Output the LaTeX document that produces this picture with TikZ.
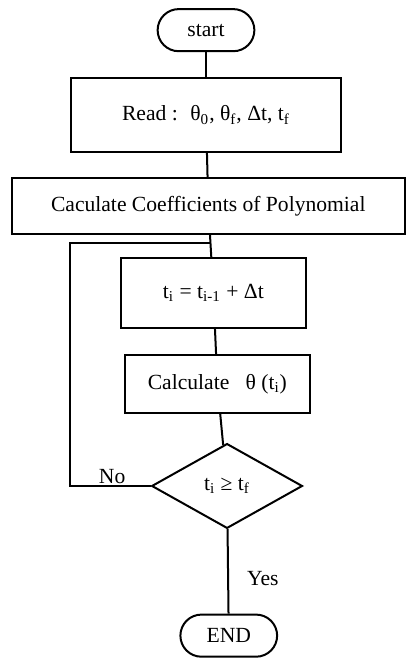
\documentclass[tikz,border=0pt]{standalone}
\usepackage{fontspec}
\setmainfont{Liberation Serif}
\usetikzlibrary{positioning,shapes.geometric,calc}

\begin{document}
\begin{tikzpicture}[line width=1pt,
  every node/.style={font=\fontsize{10.8}{13}\selectfont},
  box/.style={draw},
  term/.style={draw,rounded corners=0.37cm,minimum width=1.7cm,minimum height=0.74cm},
  decision/.style={draw,diamond,inner sep=0pt,minimum width=2.65cm,minimum height=1.49cm},
]
  \useasboundingbox (0,0) rectangle (7.187,-11.598);

  % main column
  \node[term] (start) at (3.62,-0.53) {start};
  \node[box,minimum width=4.74cm,minimum height=1.30cm] (read) at (3.62,-2.02)
    {Read :~ θ\textsubscript{0}, θ\textsubscript{f}, Δt, t\textsubscript{f}};
  \node[box,minimum width=6.91cm,minimum height=0.98cm] (coef) at (3.66,-3.62)
    {Caculate Coefficients of Polynomial};
  \node[box,minimum width=3.25cm,minimum height=1.23cm] (step1) at (3.75,-5.15)
    {t\textsubscript{i} = t\textsubscript{i-1} + Δt};
  \node[box,minimum width=3.25cm,minimum height=1.02cm] (calc) at (3.82,-6.75)
    {Calculate~~ θ (t\textsubscript{i})};
  \node[decision] (test) at (3.99,-8.54) {t\textsubscript{i} ≥ t\textsubscript{f}};
  \node[term] (stop) at (4.02,-11.17) {END};

  \draw (start) -- (read);
  \draw (read) -- (coef);
  \draw (coef) -- (step1);
  \draw (step1) -- (calc);
  \draw (calc) -- (test);
  \draw (test) -- (stop);

  % loop back
  \coordinate (join) at (3.71,-4.27);
  \coordinate (corner) at (1.23,-4.27);
  \draw (test.west) -| (corner) -- (join);

  \node (no) at (1.97,-8.38) {No};
  \node (yes) at (4.62,-10.16) {Yes};
\end{tikzpicture}
\end{document}
